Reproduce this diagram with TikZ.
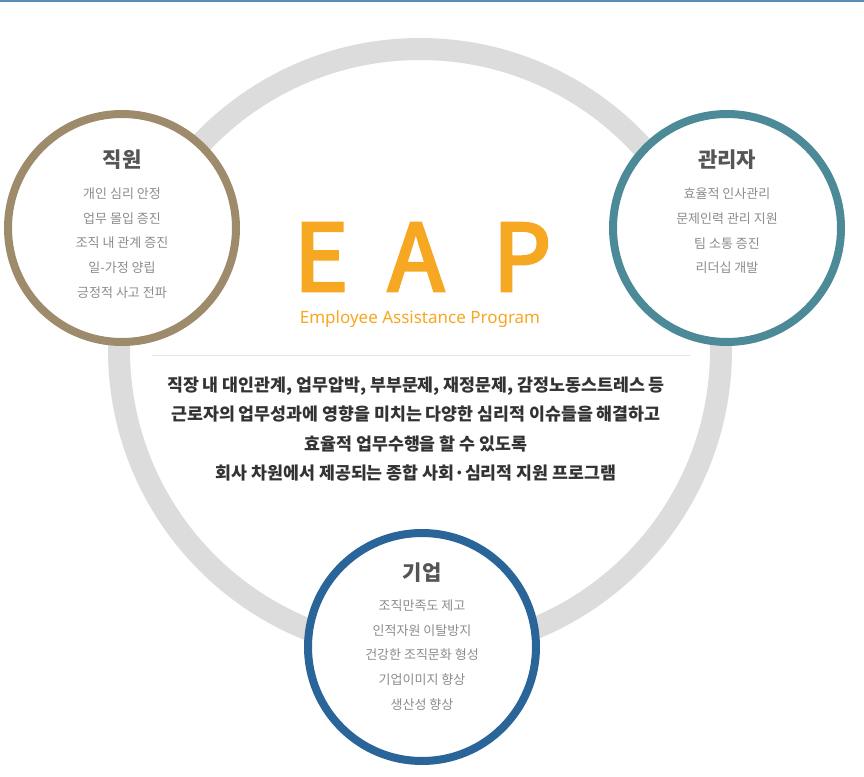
\documentclass[tikz,border=0pt]{standalone}
\usepackage{fontspec}
\setmainfont{Noto Sans CJK KR}
\newfontfamily\eapfont{Noto Sans}
\newfontfamily\eapletterfont[FakeBold=3.5]{Noto Sans CJK KR}
\usepackage{tikz}
\usetikzlibrary{positioning}
\definecolor{ringgray}{HTML}{DCDCDC}
\definecolor{staffbrown}{HTML}{9E8B6C}
\definecolor{mgrteal}{HTML}{4B8A96}
\definecolor{corpblue}{HTML}{2A6599}
\definecolor{eaporange}{HTML}{F6A823}
\definecolor{topblue}{HTML}{5B8DB8}
\definecolor{itemgray}{HTML}{8C8C8C}
\definecolor{headgray}{HTML}{555555}
\definecolor{bodygray}{HTML}{333333}

\begin{document}
\begin{tikzpicture}[x=1pt,y=-1pt,
		party/.style={circle,draw,line width=8pt,fill=white,minimum size=228pt,inner sep=0pt},
		phead/.style={font=\fontsize{21}{24}\selectfont\bfseries,text=headgray},
		plist/.style={font=\fontsize{13}{24.7}\selectfont,text=itemgray,align=center},
		eapletter/.style={font=\eapletterfont\fontsize{92}{92}\selectfont,text=eaporange,inner sep=0pt}]
			\useasboundingbox (0,0) rectangle (864,776);
			\fill[white] (0,0) rectangle (864,776);
			\draw[topblue, line width=2pt] (0,1) -- (864,1);
			\draw[ringgray, line width=22pt] (420,350) circle[radius=301pt];
			\node[party, draw=staffbrown] (staff) at (122,228) {};
			\node[party, draw=mgrteal] (manager) at (727,228) {};
			\node[party, draw=corpblue] (company) at (422,647) {};
			\node[phead] (staffhead) at (122,160) {직원};
			\node[plist] (stafflist) at (122,243) {개인 심리 안정\\업무 몰입 증진\\조직 내 관계 증진\\일-가정 양립\\긍정적 사고 전파};
			\node[phead] (managerhead) at (727,160) {관리자};
			\node[plist] (managerlist) at (727,231) {효율적 인사관리\\문제인력 관리 지원\\팀 소통 증진\\리더십 개발};
			\node[phead] (companyhead) at (422,573) {기업};
			\node[plist] (companylist) at (422,655) {조직만족도 제고\\인적자원 이탈방지\\건강한 조직문화 형성\\기업이미지 향상\\생산성 향상};
			\node[eapletter] (letterE) at (321,257) {E};
			\node[eapletter] (letterA) at (416,257) {A};
			\node[eapletter] (letterP) at (522,257) {P};
			\node[anchor=base, inner sep=0pt, font=\eapfont\fontsize{17}{20}\selectfont, text=eaporange] (eapname) at (420,323) {Employee Assistance Program};
			\coordinate (ruleL) at (152,355);
			\coordinate (ruleR) at (690,355);
			\draw[black!10, line width=1pt] (ruleL) -- (ruleR);
			\node[font=\fontsize{17.3}{29.3}\selectfont\bfseries, text=bodygray, align=center] (about) at (416,429) {직장 내 대인관계, 업무압박, 부부문제, 재정문제, 감정노동스트레스 등\\근로자의 업무성과에 영향을 미치는 다양한 심리적 이슈들을 해결하고\\효율적 업무수행을 할 수 있도록\\회사 차원에서 제공되는 종합 사회·심리적 지원 프로그램};
		\end{tikzpicture}
\end{document}
